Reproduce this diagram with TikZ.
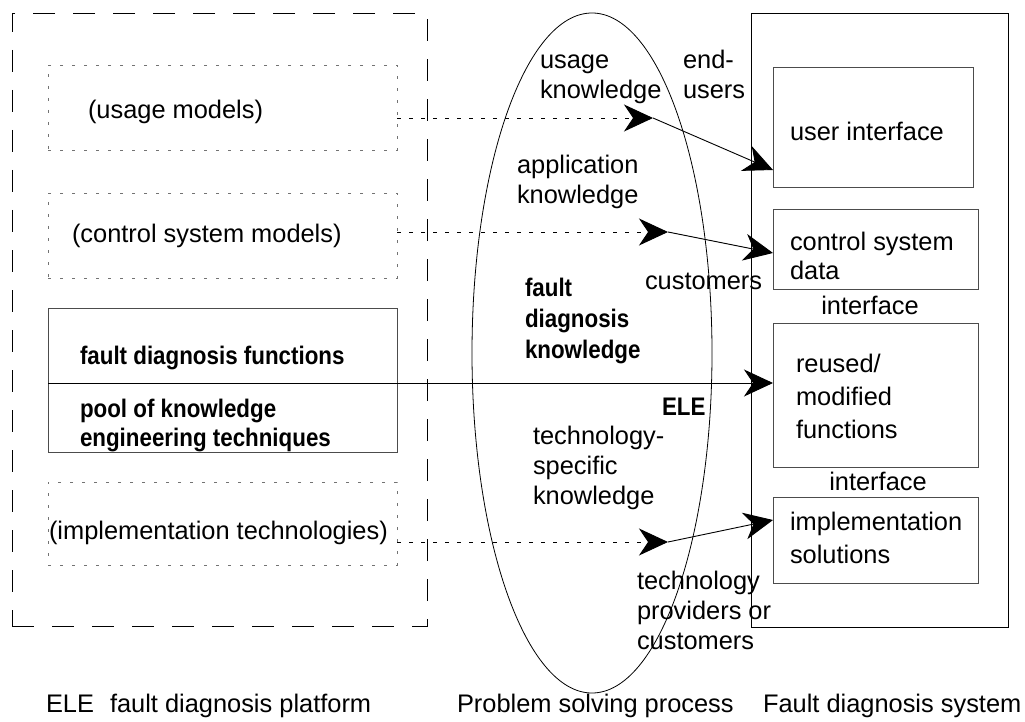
\documentclass[tikz,border=0pt]{standalone}
\usepackage{fontspec}
\setmainfont{Liberation Sans}
\newfontfamily\bcond[FakeStretch=0.88]{Liberation Sans}
\usetikzlibrary{arrows.meta,shapes.geometric,fit}
% multi-line label whose baseline is that of its first line
\newcommand\txtrows[1]{\begin{tabular}[t]{@{}l@{}}#1\end{tabular}}

\tikzset{
  every node/.style={inner sep=0pt, outer sep=0pt, font=\fontsize{25.4}{30}\selectfont},
  lbl/.style={anchor=base west},
  lblc/.style={anchor=base},
  boldlbl/.style={anchor=base west, font=\fontsize{25.4}{30}\selectfont\bcond\bfseries},
  dotbox/.style={draw=black!55, line width=0.9pt, dash pattern=on 3pt off 9pt},
  solidbox/.style={draw=black!70, line width=0.9pt},
  framebox/.style={draw=black, line width=0.9pt},
  dashframe/.style={draw=black, line width=0.9pt, dash pattern=on 22pt off 18pt},
  conn/.style={draw=black, line width=0.9pt, -{Stealth[length=29pt,width=27pt,inset=9pt]}},
  dotconn/.style={conn, dash pattern=on 4pt off 8pt},
}

\begin{document}
\begin{tikzpicture}[x=1pt, y=-1pt]
\useasboundingbox (0,0) rectangle (1025,722);

% ---- platform (left) ----
\node[dashframe, fit={(12,13) (427,626)}] (platform) {};
\node[dotbox, fit={(48,65) (397,150)}] (usage) {};
\node[dotbox, fit={(48,193) (397,278)}] (ctrlmod) {};
\node[solidbox, fit={(48,308) (397,452)}] (fdfun) {};
\node[dotbox, fit={(48,482) (397,565)}] (impltech) {};

\node[lbl] (tUsage) at (88,119) {(usage models)};
\node[lbl] (tCtrl) at (72,242) {(control system models)};
\node[boldlbl] (tFun) at (80,364) {fault diagnosis functions};
\node[boldlbl, font=\fontsize{25.4}{29}\selectfont\bcond\bfseries] (tPool) at (80,417)
  {\txtrows{pool of knowledge\\engineering techniques}};
\node[lbl] (tImpl) at (49,539) {(implementation technologies)};

% ---- problem solving process (middle) ----
\node[draw=black, line width=0.8pt, ellipse, minimum width=240pt, minimum height=680pt] (proc) at (592,353) {};

\node[lbl] (kUsage) at (540,69) {\txtrows{usage\\knowledge}};
\node[lbl] (kEnd) at (683,69) {\txtrows{end-\\users}};
\node[lbl] (kApp) at (517,174) {\txtrows{application\\knowledge}};
\node[lbl] (kCust) at (645,289) {customers};
\node[boldlbl, font=\fontsize{25.4}{31}\selectfont\bcond\bfseries] (kFault) at (525,296)
  {\txtrows{fault\\diagnosis\\knowledge}};
\node[boldlbl] (kEle) at (662,415) {ELE};
\node[lbl] (kTech) at (533,444) {\txtrows{technology-\\specific\\knowledge}};
\node[lbl] (kProv) at (637,589) {\txtrows{technology\\providers or\\customers}};

% ---- fault diagnosis system (right) ----
\node[framebox, fit={(751,13) (1008,627)}] (system) {};
\node[solidbox, fit={(773,67) (973,187)}] (ui) {};
\node[solidbox, fit={(773,209) (978,289)}] (csd) {};
\node[solidbox, fit={(773,323) (978,467)}] (reused) {};
\node[solidbox, fit={(773,497) (978,583)}] (sol) {};

\node[lbl] (tUi) at (790,141) {user interface};
\node[lbl, font=\fontsize{25.4}{29}\selectfont] (tCsd) at (790,250) {\txtrows{control system\\data}};
\node[lblc] (tIf1) at (870,314) {interface};
\node[lbl, font=\fontsize{25.4}{33}\selectfont] (tReused) at (796,372) {\txtrows{reused/\\modified\\functions}};
\node[lblc] (tIf2) at (878,490) {interface};
\node[lbl, font=\fontsize{25.4}{33}\selectfont] (tSol) at (790,530) {\txtrows{implementation\\solutions}};

% ---- connectors ----
\coordinate (uTip) at (653,118);
\coordinate (uIn) at (773,170);
\draw[dotconn] (usage.east |- uTip) -- (uTip);
\draw[conn] (uTip) -- (uIn);

\coordinate (cTip) at (668,232);
\coordinate (cIn) at (773,253);
\draw[dotconn] (ctrlmod.east |- cTip) -- (cTip);
\draw[conn] (cTip) -- (cIn);

\coordinate (fDiv) at (48,383);
\draw[conn] (fDiv) -- (fDiv -| reused.west);

\coordinate (iTip) at (668,542);
\coordinate (iIn) at (773,520);
\draw[dotconn] (impltech.east |- iTip) -- (iTip);
\draw[conn] (iTip) -- (iIn);

% ---- captions ----
\node[lbl] (capEle) at (46,712) {ELE};
\node[lbl] (capPlat) at (110,712) {fault diagnosis platform};
\node[lbl] (capProc) at (457,712) {Problem solving process};
\node[lbl] (capSys) at (763,712) {Fault diagnosis system};
\end{tikzpicture}
\end{document}
